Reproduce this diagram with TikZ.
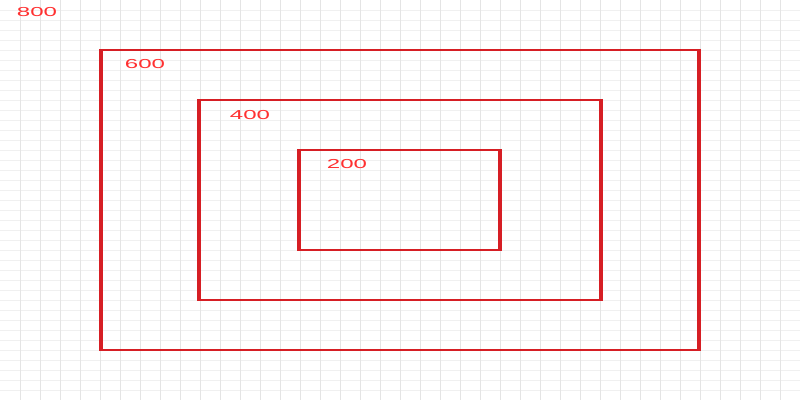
\documentclass[tikz,border=0pt]{standalone}
\usepackage{fontspec}
\setmainfont{Liberation Sans}
\definecolor{frame}{RGB}{214, 30, 36}
\definecolor{tag}{RGB}{255, 48, 48}
\definecolor{rule}{RGB}{228, 228, 228}

\begin{document}
\begin{tikzpicture}[
        x=1pt, y=-1pt,
        box/.style = {frame, line width=2pt},
        side/.style = {frame, line width=4pt},
        size/.style = {tag, xscale=1.85, inner sep=0pt, font=\fontsize{13}{14}\selectfont}
    ]
        % Canvas
        \useasboundingbox (0,0) rectangle (800,400);
        \fill [white] (0,0) rectangle (800,400);
        \foreach \y in {10,20,...,390}
            \draw [rule!55, line width=0.6pt] (0,\y) -- (800,\y);
        \foreach \x in {20,40,...,780}
            \draw [rule, line width=0.8pt] (\x,0) -- (\x,400);

        % Frames
        \foreach \l/\t/\r/\b in {101/50/699/350, 199/100/601/300, 299/150/500/250} {
            \draw [box] (\l,\t) rectangle (\r,\b);
            \draw [side] (\l,\t-1) -- (\l,\b+1);
            \draw [side] (\r,\t-1) -- (\r,\b+1);
        }

        % Labels
        \node [size] (w800) at (37,12) {800};
        \node [size] (w600) at (145,64) {600};
        \node [size] (w400) at (250,115) {400};
        \node [size] (w200) at (347,164) {200};
    \end{tikzpicture}
\end{document}
